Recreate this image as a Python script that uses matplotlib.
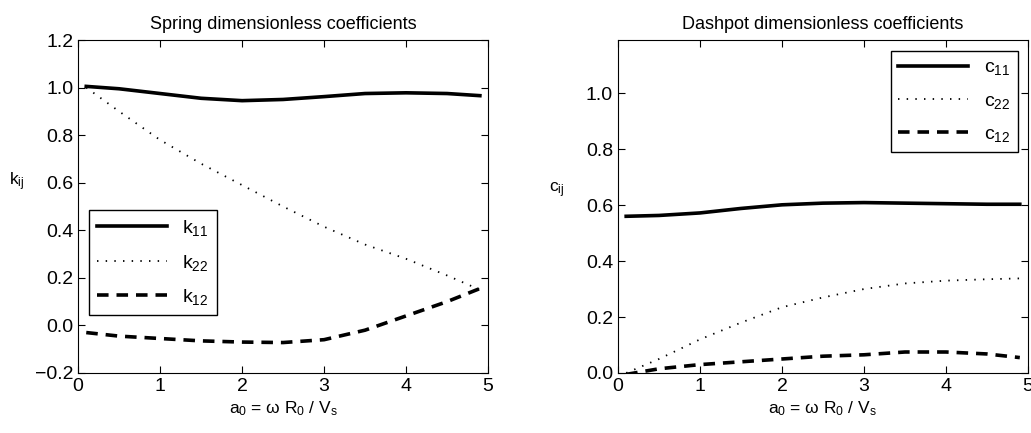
import numpy as np
from matplotlib import pyplot as plt

plt.rcParams['font.family'] = ['Liberation Sans', 'DejaVu Sans']
plt.rcParams['mathtext.fontset'] = 'custom'
plt.rcParams['mathtext.rm'] = 'Liberation Sans'
plt.rcParams['mathtext.it'] = 'Liberation Sans'

# dimensionless frequency a0
a0 = [0.1, 0.5, 1.0, 1.5, 2.0, 2.5, 3.0, 3.5, 4.0, 4.5, 4.9]

# spring coefficients
k11 = [1.005, 0.995, 0.975, 0.955, 0.945, 0.95, 0.962, 0.975, 0.978, 0.975, 0.966]
k22 = [1.0, 0.9, 0.78, 0.68, 0.59, 0.50, 0.415, 0.34, 0.28, 0.21, 0.15]
k12 = [-0.03, -0.045, -0.055, -0.065, -0.07, -0.072, -0.06, -0.02, 0.04, 0.10, 0.155]

# dashpot coefficients
c11 = [0.56, 0.563, 0.572, 0.588, 0.601, 0.607, 0.609, 0.607, 0.605, 0.603, 0.603]
c22 = [0.0, 0.05, 0.12, 0.18, 0.235, 0.27, 0.30, 0.32, 0.33, 0.335, 0.338]
c12 = [-0.005, 0.015, 0.03, 0.04, 0.05, 0.06, 0.065, 0.075, 0.075, 0.068, 0.055]

xlabel = r'a$_0$ = ω R$_0$ / V$_\mathregular{s}$'

fig = plt.figure(figsize=(10.31, 4.33), dpi=100)
ax1 = fig.add_axes([0.0757, 0.1386, 0.3977, 0.769])
ax2 = fig.add_axes([0.5994, 0.1386, 0.3977, 0.769])

styles = [dict(ls='-', lw=2.6), dict(ls=(0, (0.8, 4.0)), lw=1.3),
          dict(ls=(0, (3.2, 2.2)), lw=2.6)]


def draw(ax, series, names, sym):
    for y, name, st in zip(series, names, styles):
        ax.plot(a0, y, color='black', label=sym + '$_{' + name + '}$', **st)
    ax.set_xlim(0, 5)
    ax.set_xticks([0, 1, 2, 3, 4, 5])
    ax.tick_params(direction='in', top=True, right=True, labelsize=14,
                   length=5, width=0.8)
    ax.set_xlabel(xlabel, fontsize=12.5, labelpad=3)
    ax.set_ylabel(sym + '$_{ij}$', rotation=0, fontsize=12.5)
    ax.legend(fontsize=14, handlelength=3.6, fancybox=False,
              edgecolor='black', framealpha=1, borderaxespad=0,
              labelspacing=0.75)
    ax.get_legend().get_frame().set_linewidth(1.0)


draw(ax1, [k11, k22, k12], ['11', '22', '12'], 'k')
ax1.set_ylim(-0.2, 1.2)
ax1.set_yticks(np.arange(-0.2, 1.21, 0.2))
ax1.set_yticklabels(['\u22120.2', '0.0', '0.2', '0.4', '0.6', '0.8', '1.0', '1.2'])
ax1.set_title('Spring dimensionless coefficients', fontsize=13, pad=8)
ax1.get_legend().set_loc('lower left')
ax1.get_legend().set_bbox_to_anchor((0.027, 0.174), transform=ax1.transAxes)
ax1.yaxis.set_label_coords(-0.15, 0.54)

draw(ax2, [c11, c22, c12], ['11', '22', '12'], 'c')
ax2.set_ylim(0, 1.19)
ax2.set_yticks([0, 0.2, 0.4, 0.6, 0.8, 1.0])
ax2.set_yticklabels(['0.0', '0.2', '0.4', '0.6', '0.8', '1.0'])
ax2.set_title('Dashpot dimensionless coefficients', fontsize=13, pad=8)
ax2.get_legend().set_loc('upper right')
ax2.get_legend().set_bbox_to_anchor((0.976, 0.967), transform=ax2.transAxes)
ax2.yaxis.set_label_coords(-0.15, 0.52)

fig.savefig('out.png', dpi=100)
